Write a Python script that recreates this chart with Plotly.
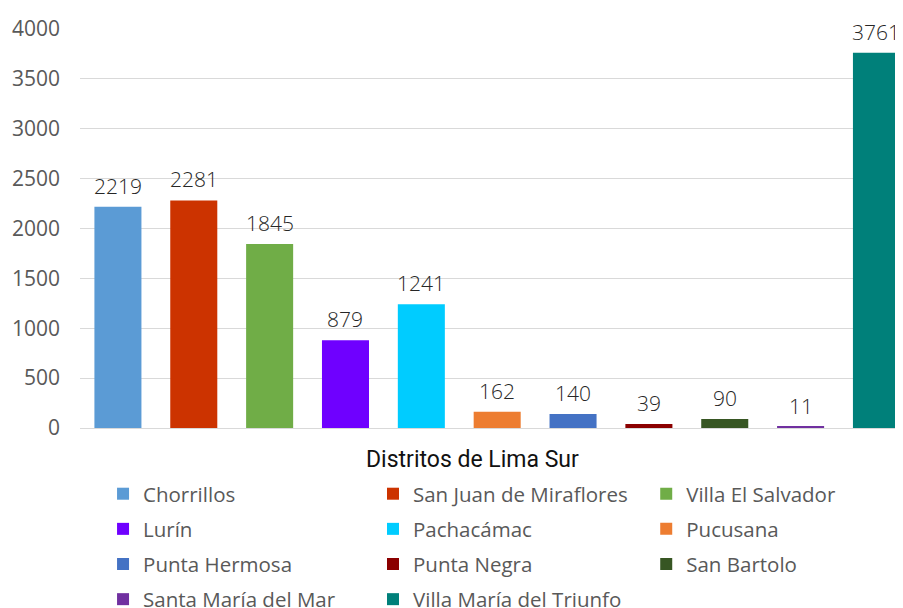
import plotly.graph_objects as go

districts = ["Chorrillos", "San Juan de Miraflores", "Villa El Salvador", "Lurín",
             "Pachacámac", "Pucusana", "Punta Hermosa", "Punta Negra", "San Bartolo",
             "Santa María del Mar", "Villa María del Triunfo"]
values = [2219, 2281, 1845, 879, 1241, 162, 140, 39, 90, 11, 3761]
colors = ["#5B9BD5", "#CC3300", "#70AD47", "#6F00FF", "#00CCFF", "#ED7D31",
          "#4472C4", "#8B0000", "#375623", "#7030A0", "#00807A"]
y_ticks = [0, 500, 1000, 1500, 2000, 2500, 3000, 3500, 4000]
x_title = "Distritos de Lima Sur"

fig = go.Figure()
legend_ids = ["legend", "legend2", "legend3"]
for i, (name, v, c) in enumerate(zip(districts, values, colors)):
    fig.add_trace(go.Bar(
        x=[i], y=[v], name=name, marker=dict(color=c, line=dict(width=0)),
        width=0.62, legend=legend_ids[i % 3], legendgroup=name,
        hoverinfo="name+y",
    ))
    fig.add_annotation(x=i, y=v, text=str(v), showarrow=False, yanchor="middle",
                       yshift=21, font=dict(family="Open Sans", size=21, color="#262626",
                                            weight=300))

fig.add_annotation(x=0.4775, y=-0.08, xref="paper", yref="paper", text=x_title,
                   showarrow=False, yanchor="middle", xanchor="center",
                   font=dict(family="Roboto", size=23, color="#111111"))

leg_common = dict(font=dict(family="Open Sans", size=20.5, color="#595959"),
                  bgcolor="rgba(0,0,0,0)", orientation="v", yanchor="top",
                  xanchor="left", traceorder="grouped", tracegroupgap=5.5,
                  itemclick=False, itemdoubleclick=False)

fig.update_layout(
    width=895, height=600,
    margin=dict(l=72, r=0, t=21, b=180, autoexpand=False),
    paper_bgcolor="white", plot_bgcolor="white",
    barmode="overlay",
    showlegend=True,
    legend=dict(x=0.028, y=-0.115, **leg_common),
    legend2=dict(x=0.356, y=-0.115, **leg_common),
    legend3=dict(x=0.688, y=-0.115, **leg_common),
    xaxis=dict(range=[-0.5, 10.35], showticklabels=False, showgrid=False,
               zeroline=False, showline=False, ticks=""),
    yaxis=dict(range=[0, 4000], tickvals=y_ticks, showgrid=True, gridcolor="#D9D9D9",
               gridwidth=1, zeroline=True, zerolinecolor="#D9D9D9", zerolinewidth=1,
               tickfont=dict(family="Open Sans", size=21, color="#595959"),
               ticklabelstandoff=19, showline=False),
)

fig.write_html("out.html")
